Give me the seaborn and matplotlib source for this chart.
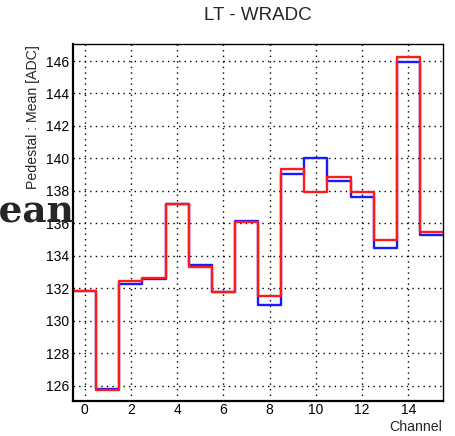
import numpy as np
import pandas as pd
import matplotlib
matplotlib.use("Agg")
import matplotlib.pyplot as plt
from matplotlib.ticker import MultipleLocator
import seaborn as sns

# Pedestal means per channel for two runs
channels = np.arange(16)
mean_blue = [131.85, 125.80, 132.28, 132.55, 137.20, 133.43, 131.74, 136.12,
             130.97, 139.05, 140.03, 138.60, 137.60, 134.50, 145.92, 135.25]
mean_red = [131.85, 125.70, 132.42, 132.60, 137.20, 133.28, 131.74, 136.08,
            131.54, 139.33, 137.90, 138.88, 137.96, 134.98, 146.26, 135.46]
x_ticks = [0, 2, 4, 6, 8, 10, 12, 14]
y_ticks = [126, 128, 130, 132, 134, 136, 138, 140, 142, 144, 146]

sns.set_style("white")
plt.rcParams["font.family"] = ["Liberation Sans", "DejaVu Sans"]

df = pd.DataFrame({"channel": channels, "blue": mean_blue, "red": mean_red})
bin_range = (channels.min() - 0.5, channels.max() + 0.5)

fig = plt.figure(figsize=(4.55, 4.36), dpi=100)
ax = fig.add_axes([73 / 455, 1 - 401 / 436, 370 / 455, 357 / 436])

sns.histplot(data=df, x="channel", weights="blue", binwidth=1, binrange=bin_range,
             element="step", fill=False, color="#1a1aff", linewidth=1.7, ax=ax)
sns.histplot(data=df, x="channel", weights="red", binwidth=1, binrange=bin_range,
             element="step", fill=False, color="#ff1a1a", linewidth=1.7, ax=ax)

ax.set_xlim(-0.5, 15.5)
ax.set_ylim(125.05, 147.05)
ax.set_xticks(x_ticks)
ax.set_yticks(y_ticks)
ax.xaxis.set_minor_locator(MultipleLocator(0.5))
ax.yaxis.set_minor_locator(MultipleLocator(0.4))
ax.tick_params(axis="both", which="major", direction="in", length=12, width=1.3,
               labelsize=10, colors="black", pad=3)
ax.tick_params(axis="x", which="major", pad=1.5)
ax.tick_params(axis="both", which="minor", direction="in", length=6, width=1.1)
ax.tick_params(top=False, right=False, which="both")
ax.grid(True, which="major", color="black", linestyle=(0, (1, 3)), linewidth=1.0)
ax.set_axisbelow(True)

for side in ["top", "right"]:
    ax.spines[side].set_linewidth(1.0)
for side in ["left", "bottom"]:
    ax.spines[side].set_linewidth(1.6)
for sp in ax.spines.values():
    sp.set_color("black")

ax.set_xlabel("")
ax.set_ylabel("")
fig.text(442 / 455, 1 - 427 / 436, "Channel", ha="right", va="center", fontsize=10.2)
fig.text(33 / 455, 1 - 45 / 436, "Pedestal : Mean [ADC]", rotation=90,
         ha="center", va="top", fontsize=10.2)
fig.text(258 / 455, 1 - 15 / 436, "LT - WRADC", ha="center", va="center", fontsize=13.5)
fig.text(74 / 455, 1 - 221 / 436, "Mean", ha="right", va="baseline",
         fontsize=27, fontweight="bold",
         family=["DejaVu Serif", "Liberation Mono"])

fig.savefig("out.png", dpi=100)
